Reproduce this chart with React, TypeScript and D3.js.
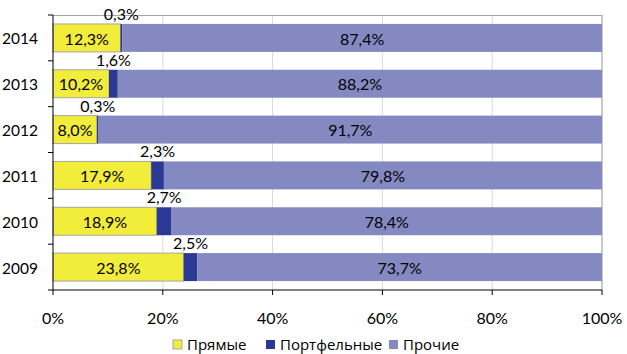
import React from 'react';
import * as d3 from 'd3';

// data, percent shares by year
const years = ['2014', '2013', '2012', '2011', '2010', '2009'];
const direct = [12.3, 10.2, 8.0, 17.9, 18.9, 23.8];
const portfolio = [0.3, 1.6, 0.3, 2.3, 2.7, 2.5];
const other = [87.4, 88.2, 91.7, 79.8, 78.4, 73.7];
const seriesNames = ['Прямые', 'Портфельные', 'Прочие'];
const xTicks = [0, 20, 40, 60, 80, 100];

const colors = ['#F2EC3A', '#2B3994', '#8489C2'];
const font = "Lato, 'Open Sans', sans-serif";

const W = 627, H = 354;
const margin = { top: 15, right: 25, bottom: 64, left: 53 };

const fmt = (v: number) => v.toFixed(1).replace('.', ',') + '%';

export default function App() {
    const width = W - margin.left - margin.right;
    const height = H - margin.top - margin.bottom;

    const x = d3.scaleLinear().domain([0, 100]).range([0, width]);
    const y = d3.scaleBand().domain(years).range([0, height]).paddingInner(0.39).paddingOuter(0.195);
    const band = d3.scaleBand().domain(years).range([0, height]);

    const rows = years.map((yr, i) => ({ year: yr, direct: direct[i], portfolio: portfolio[i], other: other[i] }));
    const stack = d3.stack<any>().keys(['direct', 'portfolio', 'other'])(rows);

    return (
        <svg width={W} height={H} style={{ position: 'absolute', left: 0, top: 0, fontFamily: font }}>
            <g transform={`translate(${margin.left},${margin.top})`}>
                {/* grid */}
                {xTicks.slice(1).map(t => (
                    <line key={t} x1={x(t)} x2={x(t)} y1={0} y2={height} stroke="#D9D9D9" strokeWidth={1} />
                ))}
                <line x1={0} x2={width} y1={0.5} y2={0.5} stroke="#A6A6A6" />
                <line x1={width} x2={width} y1={0} y2={height} stroke="#A6A6A6" />

                {/* bars */}
                {stack.map((s, si) => (
                    <g key={si}>
                        {s.map((d, i) => (
                            <rect key={i}
                                x={x(d[0])}
                                y={y(years[i])!}
                                width={x(d[1]) - x(d[0])}
                                height={y.bandwidth()}
                                fill={colors[si]}
                                stroke={si === 0 ? '#A6A6A6' : 'none'}
                                strokeWidth={1} />
                        ))}
                    </g>
                ))}

                {/* labels */}
                {stack.map((s, si) => s.map((d, i) => {
                    const cx = x((d[0] + d[1]) / 2);
                    const yy = y(years[i])!;
                    const v = d[1] - d[0];
                    if (si === 1) {
                        return <text key={`l${si}-${i}`} x={cx} y={yy - 4} textAnchor="middle" fontSize={16} fill="#000">{fmt(v)}</text>;
                    }
                    return <text key={`l${si}-${i}`} x={cx} y={yy + y.bandwidth() / 2 + 1} dy="0.35em" textAnchor="middle" fontSize={16} fill="#000">{fmt(v)}</text>;
                }))}

                {/* left axis */}
                <line x1={0} x2={0} y1={0} y2={height} stroke="#000" />
                {years.map((yr, i) => (
                    <line key={'t' + i} x1={-5} x2={0} y1={band(yr)!} y2={band(yr)!} stroke="#000" />
                ))}
                <line x1={-5} x2={0} y1={height} y2={height} stroke="#000" />
                {years.map(yr => (
                    <text key={'y' + yr} x={-15} y={band(yr)! + band.bandwidth() / 2 + 1} dy="0.35em" textAnchor="end" fontSize={15.5}>{yr}</text>
                ))}

                {/* bottom axis */}
                <line x1={0} x2={width} y1={height} y2={height} stroke="#000" />
                {xTicks.map(t => (
                    <g key={'x' + t} transform={`translate(${x(t)},${height})`}>
                        <line y1={0} y2={5} stroke="#000" />
                        <text y={34} textAnchor="middle" fontSize={16}>{t}%</text>
                    </g>
                ))}
            </g>

            {/* legend */}
            {[173, 266, 389].map((lx, i) => (
                <g key={'lg' + i} transform={`translate(${lx},340)`}>
                    <rect x={0} y={0} width={9} height={9} fill={colors[i]} stroke={i === 0 ? '#A6A6A6' : 'none'} />
                    <text x={14} y={10} fontSize={15} fontFamily="'Open Sans', sans-serif">{seriesNames[i]}</text>
                </g>
            ))}
        </svg>
    );
}
